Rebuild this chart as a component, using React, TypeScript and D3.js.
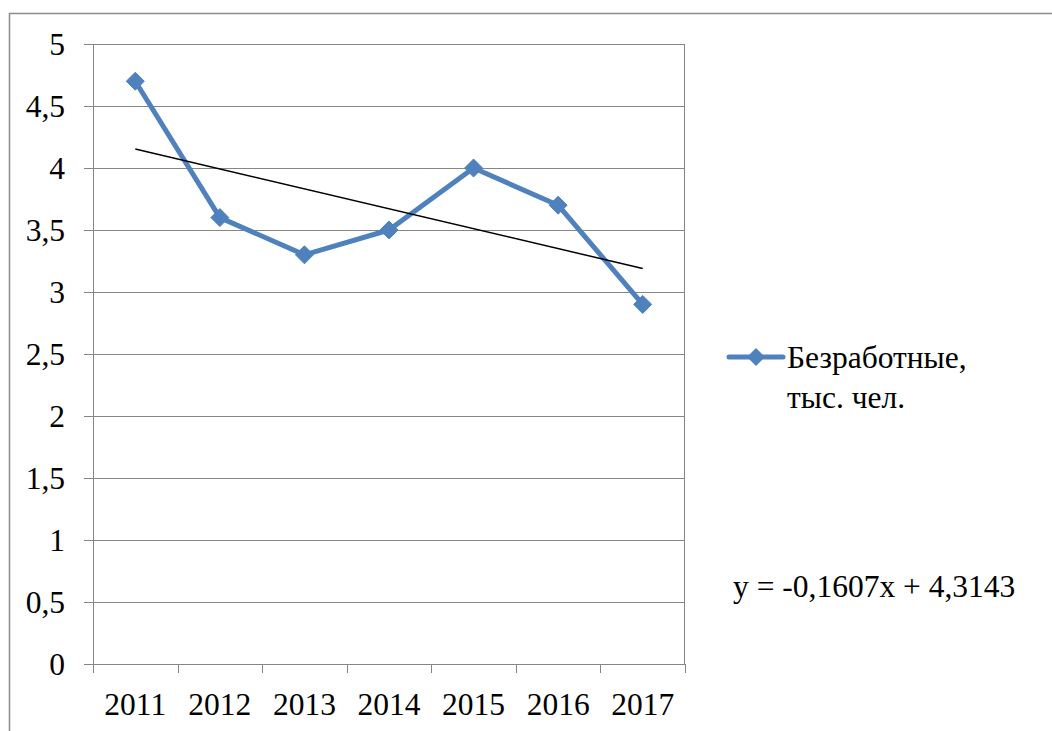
import React from "react";
import * as d3 from "d3";

const years = ["2011", "2012", "2013", "2014", "2015", "2016", "2017"];
const unemployed = [4.7, 3.6, 3.3, 3.5, 4.0, 3.7, 2.9];
const yTicks = [0, 0.5, 1, 1.5, 2, 2.5, 3, 3.5, 4, 4.5, 5];
const trendSlope = -0.1607;
const trendIntercept = 4.3143;
const seriesName = ["Безработные,", "тыс. чел."];

const W = 1052;
const H = 731;
const left = 93, right = 685, top = 44, bottom = 664;
const font = '"Liberation Serif", "Times New Roman", Tinos, "DejaVu Serif", serif';
const blue = "#4F81BD";
const grid = "#868686";
const ts = { fontFamily: font, fontSize: "31.5px" } as React.CSSProperties;

export default function App() {
  const x = d3.scaleBand<string>().domain(years).range([left, right]).padding(0);
  const y = d3.scaleLinear().domain([0, 5]).range([bottom, top]);
  const cx = (i: number) => (x(years[i]) as number) + x.bandwidth() / 2;
  const line = d3.line<number>().x((_, i) => cx(i)).y((d) => y(d));
  const fmt = (v: number) => String(v).replace(".", ",");
  const t1 = 1, t2 = years.length;
  const diamond = (px: number, py: number, r: number) =>
    `M${px},${py - r}L${px + r},${py}L${px},${py + r}L${px - r},${py}Z`;
  const boundaries = years.map((yr) => x(yr) as number).concat([right]);

  return (
    <svg width={W} height={H} style={{ position: "absolute", left: 0, top: 0 }}>
      <rect x={0} y={0} width={W} height={H} fill="#fff" />
      <rect x={9.5} y={13.5} width={W + 20} height={H + 20} fill="none" stroke="#8c8c8c" strokeWidth={1.5} />
      {yTicks.map((t) => (
        <g key={t}>
          <line x1={left - 9} x2={right} y1={Math.round(y(t)) + 0.5} y2={Math.round(y(t)) + 0.5} stroke={grid} strokeWidth={1} />
          <text x={65} y={y(t)} dy="0.35em" textAnchor="end" style={ts} fill="#000">
            {fmt(t)}
          </text>
        </g>
      ))}
      <line x1={left + 0.5} x2={left + 0.5} y1={top} y2={bottom} stroke={grid} strokeWidth={1} />
      <line x1={right - 0.5} x2={right - 0.5} y1={top} y2={bottom} stroke={grid} strokeWidth={1} />
      {boundaries.map((b, i) => (
        <line key={i} x1={Math.round(b) + 0.5} x2={Math.round(b) + 0.5} y1={bottom} y2={bottom + 9} stroke={grid} strokeWidth={1} />
      ))}
      {years.map((yr, i) => (
        <text key={yr} x={cx(i)} y={715} textAnchor="middle" style={ts} fill="#000">
          {yr}
        </text>
      ))}
      <path d={line(unemployed) || ""} fill="none" stroke={blue} strokeWidth={5} strokeLinejoin="round" strokeLinecap="round" />
      {unemployed.map((v, i) => (
        <path key={i} d={diamond(cx(i), y(v), 9)} fill={blue} stroke={blue} strokeWidth={1} />
      ))}
      <line
        x1={cx(0)}
        y1={y(trendSlope * t1 + trendIntercept)}
        x2={cx(years.length - 1)}
        y2={y(trendSlope * t2 + trendIntercept)}
        stroke="#000"
        strokeWidth={1.5}
      />
      <line x1={729} x2={783} y1={357} y2={357} stroke={blue} strokeWidth={5} strokeLinecap="round" />
      <path d={diamond(756, 357, 9)} fill={blue} />
      <text x={787} y={368} style={ts} fill="#000">{seriesName[0]}</text>
      <text x={787} y={408} style={ts} fill="#000">{seriesName[1]}</text>
      <text x={733} y={597} style={ts} fill="#000">
        {`y = ${fmt(trendSlope)}x + ${fmt(trendIntercept)}`}
      </text>
    </svg>
  );
}
